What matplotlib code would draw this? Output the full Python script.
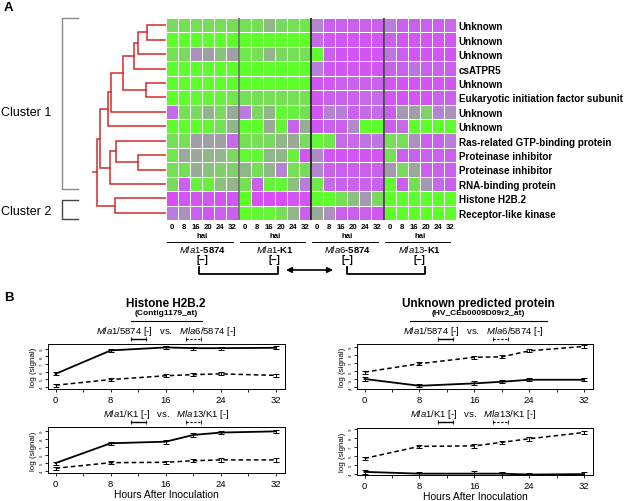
import numpy as np
import matplotlib.pyplot as plt
from matplotlib.colors import LinearSegmentedColormap

plt.rcParams['font.family'] = ['Liberation Sans', 'DejaVu Sans']
plt.rcParams['mathtext.fontset'] = 'custom'
plt.rcParams['mathtext.rm'] = 'Liberation Sans'
plt.rcParams['mathtext.it'] = 'Liberation Sans:italic'
plt.rcParams['mathtext.bf'] = 'Liberation Sans:bold'

# ---- panel A data ----
genes = ['Unknown', 'Unknown', 'Unknown', 'csATPR5', 'Unknown',
         'Eukaryotic initiation factor subunit', 'Unknown', 'Unknown',
         'Ras-related GTP-binding protein', 'Proteinase inhibitor',
         'Proteinase inhibitor', 'RNA-binding protein', 'Histone H2B.2',
         'Receptor-like kinase']
hai = [0, 8, 16, 20, 24, 32]
mla = ['Mla1', 'Mla1', 'Mla6', 'Mla13']
isolate = ['5874', 'K1', '5874', 'K1']

# relative expression, -1 = green (low), +1 = magenta (high)
expr = [
    [-0.5, -0.6, -0.6, -0.6, -0.6, -0.6,  -0.6, -0.6, -0.2, -0.5, -0.6, -0.7,   0.4, 0.8, 0.8, 0.8, 0.8, 0.8,   0.5, 0.8, 0.8, 0.8, 0.8, 0.7],
    [-1.0, -1.0, -1.0, -1.0, -1.0, -1.0,  -1.0, -1.0, -1.0, -1.0, -1.0, -1.0,   0.7, 0.9, 0.9, 0.9, 0.9, 0.9,   0.8, 0.9, 0.9, 0.9, 0.9, 0.9],
    [-0.6, -0.5, 0.2, 0.0, -0.3, 0.0,     -0.7, -0.6, -0.2, -0.5, -0.6, -0.6,  -0.9, 0.8, 0.9, 0.9, 0.9, 0.9,   0.6, 0.8, 0.9, 0.9, 0.9, 0.9],
    [-1.0, -1.0, -1.0, -1.0, -1.0, -1.0,  -1.0, -1.0, -1.0, -1.0, -1.0, -1.0,   0.5, 0.9, 0.9, 0.9, 0.9, 0.9,   0.8, 0.8, 0.6, 0.8, 0.8, 0.8],
    [-1.0, -1.0, -1.0, -1.0, -1.0, -1.0,  -1.0, -1.0, -1.0, -1.0, -1.0, -1.0,   0.9, 0.9, 0.8, 0.8, 0.8, 0.8,   0.9, 0.9, 0.9, 0.9, 0.9, 0.9],
    [-1.0, -1.0, -0.9, -0.9, -0.8, -0.7,  -0.6, -0.6, -0.6, -0.6, -0.6, -0.6,   0.9, 0.8, 0.8, 0.8, 0.7, 0.7,   0.9, 0.9, 0.9, 0.9, 0.8, 0.8],
    [0.7, -0.6, -0.5, -0.2, -0.5, -0.1,   0.5, -0.5, -0.2, -0.9, -0.8, -0.6,   0.9, 0.4, 0.5, 0.8, 0.7, 0.7,   0.8, 0.1, 0.0, -0.4, 0.4, 0.2],
    [-1.0, -1.0, -1.0, -0.9, -0.6, -0.2,  -1.0, -1.0, -0.1, -0.8, 0.8, -0.1,   0.9, 0.8, 0.8, 0.3, -1.0, -1.0,  0.8, 0.7, -1.0, -1.0, -1.0, -1.0],
    [-0.6, -0.6, 0.0, 0.0, 0.0, 0.7,      -0.6, -0.6, -0.5, -0.2, -0.1, -0.5,  -0.9, -0.7, 0.7, 0.7, 0.6, 0.6,  -0.6, -0.6, 0.2, 0.8, 0.8, 0.5],
    [-0.7, -0.1, -0.1, -0.2, -0.2, -0.5,  -0.9, -0.9, -0.2, -0.2, -0.8, 0.9,   0.3, 0.9, 0.9, 0.9, 0.9, 0.9,  -0.6, 0.8, 0.8, 0.8, 0.8, 0.8],
    [-0.6, -0.6, -0.1, -0.3, -0.4, -0.4,  -0.2, -0.6, -0.2, 0.4, -0.6, -0.5,   0.4, 0.8, 0.8, 0.8, 0.8, 0.8,   0.1, -0.5, -0.1, 0.8, 0.8, 0.8],
    [-0.5, 0.8, -0.8, -0.8, -0.3, -0.2,   -0.6, 0.8, -0.8, -0.9, -0.3, 0.5,   -0.7, 0.7, 0.8, 0.8, 0.8, 0.8,  -0.9, 0.8, -0.6, 0.1, 0.7, 0.8],
    [1.0, 0.9, 0.9, 0.9, 0.9, 0.9,        -1.0, 1.0, 1.0, 1.0, 0.9, 0.9,   -1.0, -1.0, -0.6, -0.3, 0.1, -0.5,  -1.0, -1.0, -1.0, -1.0, -1.0, -1.0],
    [0.5, 0.2, 0.8, 0.9, 0.8, 0.8,        -1.0, -0.9, -0.9, -0.6, -0.2, 0.8,   -0.1, 0.2, 0.8, 0.8, 0.8, 0.9,  -1.0, -1.0, -1.0, -1.0, -1.0, -1.0],
]

# dendrogram: (left node, right node, merge height)
merges = [(0, 1, 19), (14, 2, 28), (15, 3, 32), (4, 5, 20), (16, 17, 43),
          (18, 6, 55), (19, 7, 58), (9, 10, 28), (8, 21, 50), (22, 11, 56),
          (20, 23, 66), (12, 13, 51), (24, 25, 69)]

# ---- panel B data ----
hours = [0, 8, 16, 20, 24, 32]
h2b_5874_mla1 = [5.7, 8.8, 9.2, 9.1, 9.1, 9.15]
h2b_5874_mla6 = [4.2, 4.95, 5.45, 5.6, 5.7, 5.5]
h2b_k1_mla1 = [4.95, 7.45, 7.65, 8.5, 8.8, 8.95]
h2b_k1_mla13 = [4.3, 5.0, 5.05, 5.25, 5.35, 5.35]
unk_5874_mla1 = [5.05, 4.2, 4.5, 4.7, 4.95, 4.95]
unk_5874_mla6 = [5.9, 6.95, 7.75, 7.8, 8.55, 9.1]
unk_k1_mla1 = [4.2, 4.0, 4.0, 4.0, 3.9, 3.95]
unk_k1_mla13 = [5.7, 7.05, 7.1, 7.5, 7.9, 8.6]
err_a = [0.2, 0.2, 0.25, 0.2, 0.2, 0.2]
err_b = [0.2, 0.2, 0.2, 0.2, 0.2, 0.2]

W, H = 624, 502
fig = plt.figure(figsize=(W / 100, H / 100), dpi=100)


def rect(l, t, r, b):
    return [l / W, 1 - b / H, (r - l) / W, (b - t) / H]


# heatmap
cmap = LinearSegmentedColormap.from_list(
    'gm', [(0.0, '#5cff2a'), (0.25, '#7bd860'), (0.5, '#a09fa6'),
           (0.75, '#b97ede'), (1.0, '#d94cf8')])
ax = fig.add_axes(rect(166, 19, 456, 221))
ax.pcolormesh(np.array(expr), cmap=cmap, vmin=-1, vmax=1,
              edgecolors='white', linewidth=0.7)
ax.set_xlim(0, 24)
ax.set_ylim(len(genes), 0)
for x, c in zip([6, 12, 18], ['#707070', '#222222', '#444444']):
    ax.axvline(x, color=c, lw=1.3)
for s in ax.spines.values():
    s.set_visible(False)
ax.yaxis.tick_right()
ax.set_yticks(np.arange(len(genes)) + 0.5)
ax.set_yticklabels(genes, fontsize=7.1, fontweight='bold')
ax.set_xticks(np.arange(24) + 0.5)
ax.set_xticklabels([str(h) for h in hai] * 4, fontsize=5.6, fontweight='bold')
ax.tick_params(length=0, pad=2)

# dendrogram
dax = fig.add_axes(rect(88, 19, 166, 221))
dax.set_ylim(len(genes), 0)
dax.set_xlim(78, 0)
dax.axis('off')
pos = {i: (0.0, i + 0.5) for i in range(len(genes))}
red = '#d42a2a'
for k, (a, b, h) in enumerate(merges):
    ha, ya = pos[a]
    hb, yb = pos[b]
    dax.plot([ha, h, h, hb], [ya, ya, yb, yb], color=red, lw=1.1,
             solid_joinstyle='miter')
    pos[len(genes) + k] = (h, (ya + yb) / 2)
root_h, root_y = pos[len(genes) + len(merges) - 1]
dax.plot([root_h, 73], [root_y, root_y], color=red, lw=1.1)

# overlay in pixel coordinates for annotations
ov = fig.add_axes([0, 0, 1, 1])
ov.set_xlim(0, W)
ov.set_ylim(H, 0)
ov.axis('off')

ov.text(4, 8, 'A', fontsize=9.5, fontweight='bold', va='center')
ov.text(4, 298, 'B', fontsize=9.5, fontweight='bold', va='center')

# cluster brackets
ov.plot([78, 62, 62, 78], [19, 19, 190, 190], color='#8a8a8a', lw=1.0)
ov.plot([78, 62, 62, 78], [201, 201, 220, 220], color='#444444', lw=1.0)
ov.text(1, 113, 'Cluster 1', fontsize=9, va='center')
ov.text(1, 212, 'Cluster 2', fontsize=9, va='center')

# block labels
cw = 290 / 24
for i in range(4):
    cx = 166 + cw * (6 * i + 3)
    ov.text(cx, 237, 'hai', fontsize=5.6, fontweight='bold', ha='center', va='center')
    ov.plot([166 + cw * 6 * i + 1, 166 + cw * 6 * (i + 1) - 6], [243, 243], color='k', lw=0.7)
    ov.text(cx, 249.5, r'$\mathit{%s}$-%s' % (mla[i], isolate[i]), fontsize=6.8,
            fontweight='bold', ha='center', va='center')
    ov.text(cx, 260, '[–]', fontsize=7, fontweight='bold', ha='center', va='center')

ov.plot([199, 199, 278, 278], [268, 275, 275, 268], color='k', lw=1.3)
ov.plot([347, 347, 425, 425], [268, 275, 275, 268], color='k', lw=1.3)
ov.annotate('', xy=(333, 271), xytext=(286, 271),
            arrowprops=dict(arrowstyle='<|-|>', color='k', lw=1.2, mutation_scale=8,
                            shrinkA=0, shrinkB=0))

# panel B
titles = [('Histone H2B.2', '(Contig1179_at)', 166, 131, 202),
          ('Unknown predicted protein', '(HV_CEb0009D09r2_at)', 478, 410, 547)]
for name, probe, cx, ul, ur in titles:
    ov.text(cx, 304, name, fontsize=8.5, fontweight='bold', ha='center', va='center')
    ov.text(cx, 313.5, probe, fontsize=6, fontweight='bold', ha='center', va='center')
    ov.plot([ul, ur], [322, 322], color='k', lw=0.8)


def panel(box, solid, dashed, title_x, title_y, pair, ylim, xlabel):
    a = fig.add_axes(rect(*box))
    a.errorbar(hours, solid, yerr=err_a, color='k', lw=1.3, capsize=2,
               elinewidth=0.7, capthick=0.7)
    a.errorbar(hours, dashed, yerr=err_b, color='k', lw=1.1, ls=(0, (3, 2)),
               capsize=2, elinewidth=0.7, capthick=0.7)
    a.set_xlim(-1.1, 33.3)
    a.set_ylim(*ylim)
    a.set_xticks([0, 8, 16, 24, 32])
    a.set_xticks([4, 12, 20, 28], minor=True)
    a.set_yticks([4, 5, 6, 7, 8, 9])
    a.tick_params(axis='x', which='both', length=2.5, width=0.6, labelsize=6.8, pad=1.5)
    a.tick_params(axis='y', length=2, width=0.6, labelsize=3.2, pad=1)
    for lab in a.get_yticklabels():
        lab.set_rotation(90)
        lab.set_va('center')
    for s in a.spines.values():
        s.set_linewidth(0.7)
    a.set_ylabel('log (signal)', fontsize=5.8, labelpad=2)
    if xlabel:
        a.set_xlabel('Hours After Inoculation', fontsize=7.5, labelpad=1)
    iso = pair[2]
    ov.text(title_x, title_y,
            r'$\mathit{%s}$/%s [-]   vs.   $\mathit{%s}$/%s [-]' % (pair[0], iso, pair[1], iso),
            fontsize=6.8, ha='center', va='center')
    lx = title_x - 35
    ov.plot([lx, lx + 15], [title_y + 8, title_y + 8], color='k', lw=1.0,
            marker='|', ms=2.5, mew=0.6)
    ov.plot([lx + 55, lx + 70], [title_y + 8, title_y + 8], color='k', lw=0.8,
            ls=(0, (2, 1.5)), marker='|', ms=2.5, mew=0.6)


panel((48, 345, 285, 390), h2b_5874_mla1, h2b_5874_mla6, 166, 332,
      ('Mla1', 'Mla6', '5874'), (3.7, 9.65), False)
panel((48, 428, 285, 474), h2b_k1_mla1, h2b_k1_mla13, 166, 415,
      ('Mla1', 'Mla13', 'K1'), (3.7, 9.5), True)
panel((357, 345, 593, 390), unk_5874_mla1, unk_5874_mla6, 473, 332,
      ('Mla1', 'Mla6', '5874'), (3.8, 9.4), False)
panel((357, 429, 593, 476), unk_k1_mla1, unk_k1_mla13, 473, 415,
      ('Mla1', 'Mla13', 'K1'), (3.85, 9.1), True)

fig.savefig('out.png', dpi=100)
